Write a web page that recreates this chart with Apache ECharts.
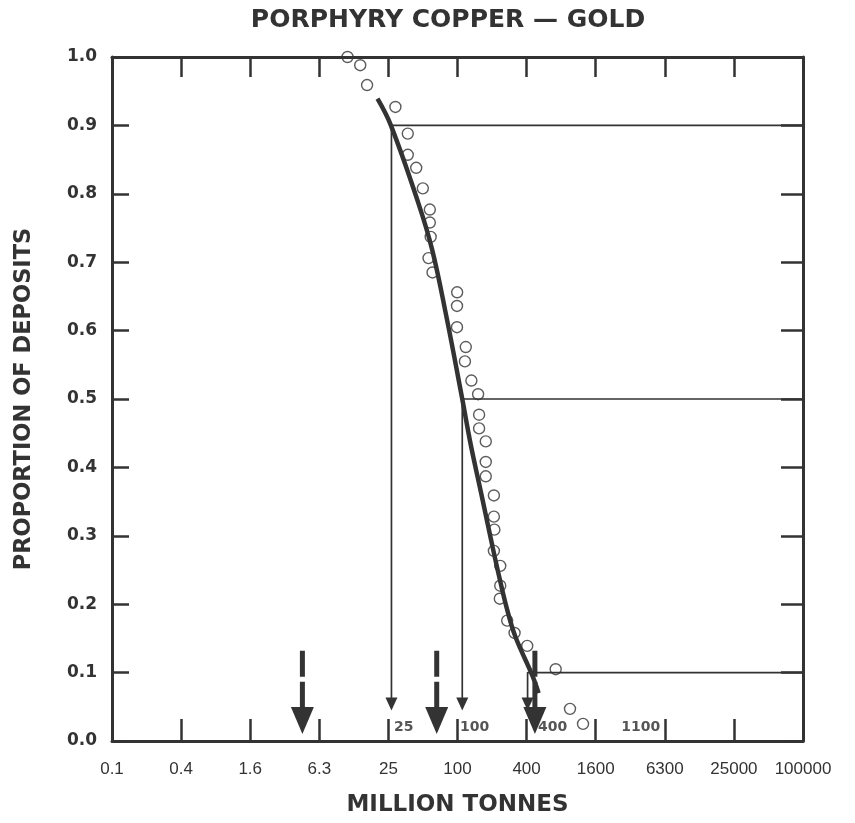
<!DOCTYPE html>
<html>
<head>
<meta charset="utf-8">
<title>Porphyry copper - gold</title>
<script src="https://cdn.jsdelivr.net/npm/echarts@6/dist/echarts.min.js"></script>
<style>
  html, body { margin: 0; padding: 0; background: #fff; }
  #area { width: 855px; height: 823px; }
</style>
</head>
<body>
<div id="area"></div>
<script>
// tick labels of the log axis (steps of 10^0.6)
const xTickLabels = ['0.1', '0.4', '1.6', '6.3', '25', '100', '400', '1600', '6300', '25000', '100000'];

// deposits: tonnage (million tonnes) and cumulative proportion
const tonnage = [11.1, 14.3, 16.4, 28.9, 37, 37, 43.8, 50, 57.5, 57.5,
  58.5, 56, 60.7, 99.3, 99, 99, 118, 116, 132, 151,
  154, 154, 176, 176, 176, 207, 207, 209, 207, 235,
  235, 233, 270, 313, 403, 712, 948, 1230];
const proportion = [1.0, 0.988, 0.959, 0.927, 0.888, 0.857, 0.838, 0.808, 0.777, 0.758,
  0.737, 0.706, 0.685, 0.656, 0.636, 0.605, 0.576, 0.555, 0.527, 0.507,
  0.477, 0.457, 0.438, 0.408, 0.387, 0.359, 0.328, 0.309, 0.278, 0.256,
  0.227, 0.208, 0.176, 0.158, 0.139, 0.105, 0.047, 0.025];

// fitted curve
const curveTonnes = [20.2, 26.4, 45.8, 60.3, 80.2, 110, 129.7, 164, 201.5, 234, 272, 319, 446, 506];
const curveProp = [0.939, 0.9, 0.786, 0.718, 0.62, 0.5, 0.435, 0.355, 0.284, 0.235, 0.19, 0.152, 0.096, 0.07];

// 90th, 50th, 10th percentiles
const quantileProp = [0.9, 0.5, 0.1];
const quantileTonnes = [26.7, 110, 406];

// estimated tonnages (dashed arrows)
const estimateTonnes = [4.5, 66, 470];

// size labels above the x axis, hung from tick index
const sizeLabels = ['25', '100', '400', '1100'];
const sizeLabelTick = [4, 5, 6, 8];

const ink = '#333';
const toAxis = v => (Math.log10(v) + 1) / 0.6;

let series = [];

series.push({
  name: 'deposits',
  type: 'scatter',
  symbol: 'circle',
  symbolSize: 11,
  itemStyle: { color: 'rgba(0,0,0,0)', borderColor: ink, borderWidth: 1.4 },
  data: tonnage.map((t, i) => [toAxis(t), proportion[i]]),
  z: 2
});

series.push({
  name: 'fit',
  type: 'line',
  smooth: 0.4,
  showSymbol: false,
  lineStyle: { color: ink, width: 4.5 },
  data: curveTonnes.map((t, i) => [toAxis(t), curveProp[i]]),
  z: 3
});

// percentile guides with small arrow heads
quantileProp.forEach((q, i) => {
  const x = toAxis(quantileTonnes[i]);
  series.push({
    type: 'line',
    symbol: 'none',
    showSymbol: true,
    lineStyle: { color: ink, width: 1.7 },
    itemStyle: { color: ink },
    data: [[10, q], [x, q], { value: [x, 0.054], symbol: 'triangle', symbolSize: [12, 13], symbolRotate: 180 }],
    z: 2
  });
});

// thick dashed arrows
estimateTonnes.forEach(t => {
  const x = toAxis(t);
  series.push({
    type: 'line',
    symbol: 'none',
    showSymbol: true,
    lineStyle: { color: ink, width: 5, type: [26, 5] },
    itemStyle: { color: ink },
    data: [[x, 0.132], { value: [x, 0.03], symbol: 'triangle', symbolSize: [23, 27], symbolRotate: 180 }],
    z: 4
  });
});

series.push({
  type: 'scatter',
  symbolSize: 1,
  itemStyle: { color: 'rgba(0,0,0,0)' },
  label: {
    show: true,
    formatter: p => p.name,
    fontFamily: 'DejaVu Sans',
    fontWeight: 'bold',
    fontSize: 14,
    color: '#2a2a2a'
  },
  data: sizeLabels.map((s, i) => ({
    name: s,
    value: [sizeLabelTick[i], 0.0205],
    label: i === 3 ? { position: 'left', distance: 4 } : { position: 'right', distance: [5, 2, 11][i] }
  })),
  z: 5
});

const axisLineStyle = { show: true, onZero: false, lineStyle: { color: ink, width: 3 } };

let option = {
  animation: false,
  backgroundColor: '#fff',
  title: {
    text: 'PORPHYRY COPPER \u2014 GOLD',
    left: 443,
    textAlign: 'center',
    top: 3,
    textStyle: { fontFamily: 'DejaVu Sans', fontWeight: 'bold', fontSize: 25, color: ink }
  },
  grid: { left: 112, top: 57, right: 52, bottom: 82 },
  xAxis: [
    {
      type: 'value', min: 0, max: 10, interval: 1, position: 'bottom',
      axisLine: axisLineStyle,
      axisTick: { show: true, inside: true, length: 22, lineStyle: { color: ink, width: 2.5 } },
      splitLine: { show: false },
      axisLabel: {
        formatter: v => xTickLabels[Math.round(v)],
        fontFamily: 'Liberation Sans', fontSize: 17, color: ink, margin: 20
      },
      name: 'MILLION TONNES',
      nameLocation: 'middle',
      nameGap: 53,
      nameTextStyle: { fontFamily: 'DejaVu Sans', fontWeight: 'bold', fontSize: 23, color: ink }
    },
    {
      type: 'value', min: 0, max: 10, interval: 1, position: 'top',
      axisLine: axisLineStyle,
      axisTick: { show: true, inside: true, length: 20, lineStyle: { color: ink, width: 2.5 } },
      splitLine: { show: false },
      axisLabel: { show: false }
    }
  ],
  yAxis: [
    {
      type: 'value', min: 0, max: 1, interval: 0.1, position: 'left',
      axisLine: axisLineStyle,
      axisTick: { show: true, inside: true, length: 17, lineStyle: { color: ink, width: 2.5 } },
      splitLine: { show: false },
      axisLabel: {
        formatter: v => v.toFixed(1),
        fontFamily: 'DejaVu Sans', fontWeight: 'bold', fontSize: 17, color: ink, margin: 15
      },
      name: 'PROPORTION OF DEPOSITS',
      nameLocation: 'middle',
      nameGap: 76,
      nameTextStyle: { fontFamily: 'DejaVu Sans', fontWeight: 'bold', fontSize: 22.5, color: ink }
    },
    {
      type: 'value', min: 0, max: 1, interval: 0.1, position: 'right',
      axisLine: axisLineStyle,
      axisTick: { show: true, inside: true, length: 22, lineStyle: { color: ink, width: 2.5 } },
      splitLine: { show: false },
      axisLabel: { show: false }
    }
  ],
  series: series
};

let myChart = echarts.init(document.getElementById('area'));
myChart.setOption(option);
window.addEventListener('resize', function () {
  myChart.resize();
}, false);
</script>
</body>
</html>
